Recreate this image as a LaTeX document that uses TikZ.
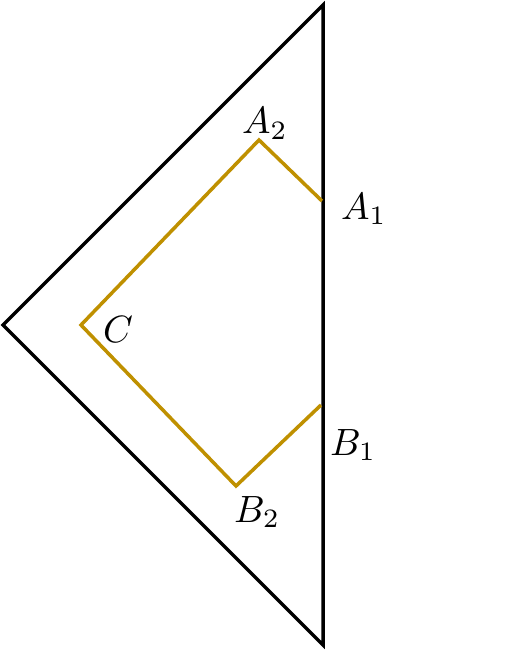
\documentclass[tikz,border=0pt]{standalone}
\definecolor{gold}{RGB}{191,144,0}
\newcommand{\biglab}[1]{\scalebox{3.8}{$#1$}}
\begin{document}
\begin{tikzpicture}[x=1pt,y=-1pt,
  edge/.style={line width=3.5pt,black},
  path/.style={line width=3.5pt,gold},
  lab/.style={anchor=base west,inner sep=0pt}]
\useasboundingbox (0,0) rectangle (513,652);
\coordinate (T) at (323,5);
\coordinate (L) at (3,325);
\coordinate (Bt) at (323,645);
\draw[edge, line join=miter] (T) -- (L) -- (Bt) -- cycle;
\coordinate (A1) at (322,201);
\coordinate (A2) at (259,140);
\coordinate (C) at (81,325);
\coordinate (B2) at (236,486);
\coordinate (B1) at (321,405);
\draw[path] (A1) -- (A2) -- (C) -- (B2) -- (B1);
\node[lab] (lA2) at (242,134) {\biglab{A_2}};
\node[lab] (lA1) at (341,219) {\biglab{A_1}};
\node[lab] (lC) at (103,342) {\biglab{C}};
\node[lab] (lB1) at (330,455) {\biglab{B_1}};
\node[lab] (lB2) at (234,522) {\biglab{B_2}};
\end{tikzpicture}
\end{document}
